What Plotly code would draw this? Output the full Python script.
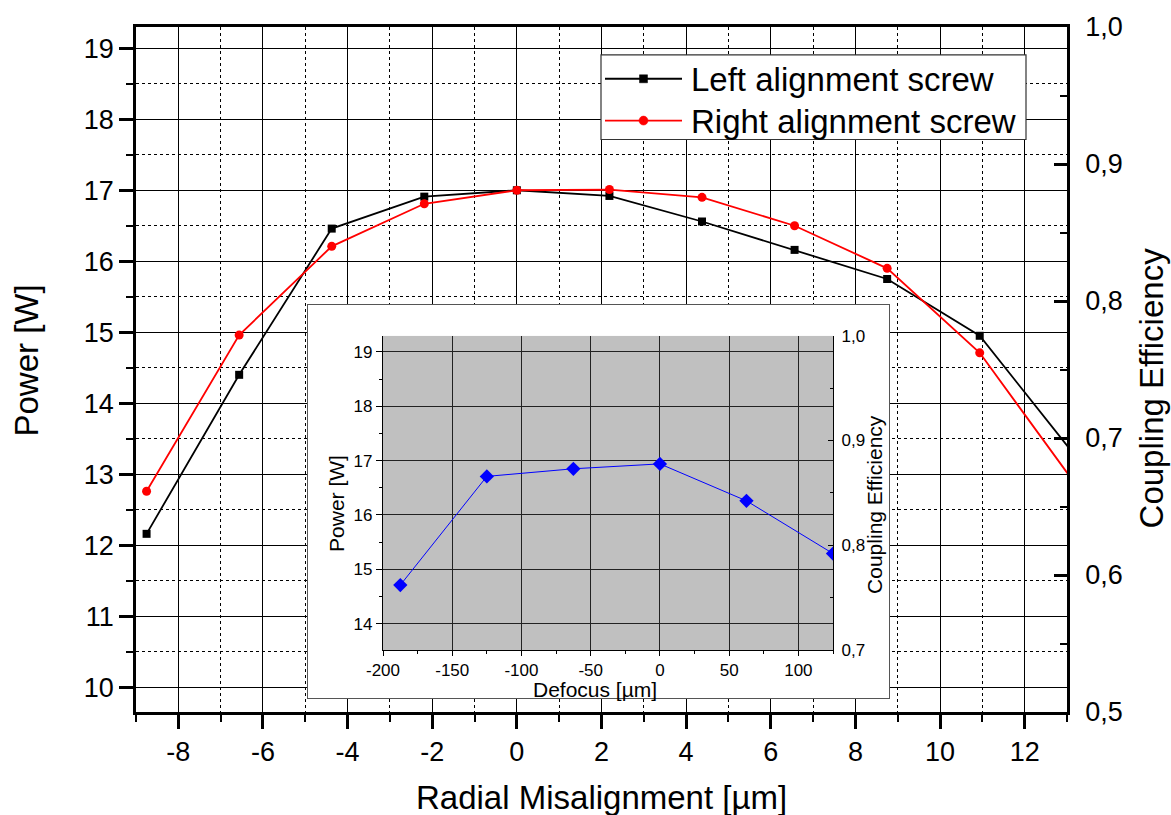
import plotly.graph_objects as go

# ---- data -----------------------------------------------------------------
# radial misalignment steps of the alignment screws [µm]
misalignment = [-8.75, -6.5625, -4.375, -2.1875, 0.0, 2.1875, 4.375,
                6.5625, 8.75, 10.9375, 13.125]
power_left = [12.16, 14.40, 16.46, 16.91, 17.00, 16.92, 16.56,
              16.16, 15.75, 14.95, 13.31]
power_right = [12.76, 14.96, 16.21, 16.81, 17.00, 17.01, 16.90,
               16.50, 15.90, 14.71, 12.92]

# defocus scan (inset)
defocus = [-187.5, -125.0, -62.5, 0.0, 62.5, 125.0]
power_defocus = [14.71, 16.71, 16.85, 16.94, 16.26, 15.29]

# input power: coupling efficiency = power / input power
input_power = 19.3

main_ticks_x = [-8, -6, -4, -2, 0, 2, 4, 6, 8, 10, 12]
main_ticks_eff = [0.5, 0.6, 0.7, 0.8, 0.9, 1.0]
inset_ticks_x = [-200, -150, -100, -50, 0, 50, 100]
inset_ticks_eff = [0.7, 0.8, 0.9, 1.0]

series_names = ["Left alignment screw", "Right alignment screw"]
series_colors = ["black", "red"]
series_symbols = ["square", "circle"]

FONT = "Liberation Sans, Arial, sans-serif"

# ---- geometry (paper fractions) -------------------------------------------
W, H = 1171, 815
ML, MR, MT, MB = 136, 104, 24, 103
PW, PH = W - ML - MR, H - MT - MB


def px(x):
    return (x - ML) / PW


def py(y):
    return (H - MB - y) / PH


def label(v):
    return f"{v:g}"


frame_dom_x = [px(308), px(889)]
frame_dom_y = [py(698), py(303)]
inset_dom_x = [px(383), px(833)]
inset_dom_y = [py(650), py(334)]

fig = go.Figure()

# main plot
for name, ys, col, sym in zip(series_names, [power_left, power_right],
                              series_colors, series_symbols):
    fig.add_trace(go.Scatter(
        x=misalignment, y=ys, name=name, mode="lines+markers",
        line=dict(color=col, width=1.8),
        marker=dict(symbol=sym, size=8 if sym == "square" else 9, color=col),
        showlegend=False, xaxis="x", yaxis="y"))

# efficiency scale on the right axis (same curve, transparent)
fig.add_trace(go.Scatter(
    x=misalignment, y=[p / input_power for p in power_left],
    mode="lines", line=dict(width=0), opacity=0, showlegend=False,
    hoverinfo="skip", xaxis="x", yaxis="y2"))

# inset frame (white box)
fig.add_trace(go.Scatter(x=[None], y=[None], showlegend=False,
                         hoverinfo="skip", xaxis="x3", yaxis="y3"))

# inset plot
fig.add_trace(go.Scatter(
    x=defocus, y=power_defocus, mode="lines+markers", showlegend=False,
    line=dict(color="#0000FF", width=1),
    marker=dict(symbol="diamond", size=11, color="#0000FF"),
    xaxis="x4", yaxis="y4"))
fig.add_trace(go.Scatter(
    x=defocus, y=[p / input_power for p in power_defocus],
    mode="lines", line=dict(width=0), opacity=0, showlegend=False,
    hoverinfo="skip", xaxis="x4", yaxis="y5"))

tick_font = dict(family=FONT, size=27, color="black")
inset_font = dict(family=FONT, size=17, color="black")

fig.update_layout(
    width=W, height=H,
    margin=dict(l=ML, r=MR, t=MT, b=MB),
    paper_bgcolor="white", plot_bgcolor="white",
    separators=",.",
    font=dict(family=FONT, color="black"),
    showlegend=False,
    xaxis=dict(
        range=[-9.0, 13.0], domain=[0, 1], anchor="y",
        tickvals=main_ticks_x, ticktext=[label(v) for v in main_ticks_x],
        ticks="outside", ticklen=14, tickwidth=2.5,
        tickcolor="black", tickfont=tick_font,
        showline=True, linewidth=2.5, linecolor="black", mirror=True,
        showgrid=True, gridcolor="black", gridwidth=1, zeroline=False,
        minor=dict(dtick=1, ticks="outside", ticklen=7, tickwidth=2,
                   tickcolor="black", showgrid=True, gridcolor="black",
                   gridwidth=1, griddash="dot"),
    ),
    yaxis=dict(
        range=[0.5 * input_power, input_power], domain=[0, 1], anchor="x",
        tick0=0, dtick=1, ticks="outside", ticklen=14, tickwidth=2.5,
        tickcolor="black", tickfont=tick_font,
        showline=True, linewidth=2.5, linecolor="black",
        showgrid=True, gridcolor="black", gridwidth=1, zeroline=False,
        minor=dict(dtick=0.5, ticks="outside", ticklen=7, tickwidth=2,
                   tickcolor="black", showgrid=True, gridcolor="black",
                   gridwidth=1, griddash="dot"),
    ),
    yaxis2=dict(
        range=[0.5, 1.0], overlaying="y", side="right", anchor="x",
        tickvals=main_ticks_eff, tickformat=".1f",
        ticks="inside", ticklen=13, tickwidth=2.5, tickcolor="black",
        tickfont=tick_font, ticklabelstandoff=10,
        showline=True, linewidth=2.5, linecolor="black",
        showgrid=False, zeroline=False,
        minor=dict(dtick=0.05, ticks="inside", ticklen=7, tickwidth=2,
                   tickcolor="black", showgrid=False),
    ),
    xaxis3=dict(
        range=[0, 1], domain=frame_dom_x, anchor="y3",
        showticklabels=False, ticks="", showgrid=False, zeroline=False,
        showline=True, mirror=True, linecolor="#555555", linewidth=1,
    ),
    yaxis3=dict(
        range=[0, 1], domain=frame_dom_y, anchor="x3",
        showticklabels=False, ticks="", showgrid=False, zeroline=False,
        showline=True, mirror=True, linecolor="#555555", linewidth=1,
    ),
    xaxis4=dict(
        range=[-200, 125], domain=inset_dom_x, anchor="y4",
        tickvals=inset_ticks_x, ticktext=[label(v) for v in inset_ticks_x],
        ticks="outside", ticklen=5, tickwidth=1,
        tickcolor="black", tickfont=inset_font, ticklabelstandoff=-1,
        showline=True, linewidth=1.2, linecolor="black",
        showgrid=True, gridcolor="#222222", gridwidth=1.2, zeroline=False,
        minor=dict(dtick=25, ticks="outside", ticklen=3, tickwidth=1,
                   tickcolor="black", showgrid=False),
    ),
    yaxis4=dict(
        range=[0.7 * input_power, input_power], domain=inset_dom_y,
        anchor="x4",
        tick0=0, dtick=1, ticks="outside", ticklen=6, tickwidth=1,
        tickcolor="black", tickfont=inset_font,
        showline=True, linewidth=1.2, linecolor="black",
        showgrid=True, gridcolor="#222222", gridwidth=1.2, zeroline=False,
        minor=dict(dtick=0.5, ticks="outside", ticklen=3, tickwidth=1,
                   tickcolor="black", showgrid=False),
    ),
    yaxis5=dict(
        range=[0.7, 1.0], overlaying="y4", side="right", anchor="x4",
        tickvals=inset_ticks_eff, tickformat=".1f",
        ticks="inside", ticklen=5, tickwidth=1, tickcolor="black",
        tickfont=inset_font, ticklabelstandoff=4,
        showline=True, linewidth=1.2, linecolor="black",
        showgrid=False, zeroline=False,
        minor=dict(dtick=0.05, ticks="inside", ticklen=3, tickwidth=1,
                   tickcolor="black", showgrid=False),
    ),
)

# grey plotting area of the inset, beneath its grid lines
fig.add_shape(type="rect", xref="x4", yref="y4",
              x0=-200, x1=125, y0=0.7 * input_power, y1=input_power,
              fillcolor="#C0C0C0", line=dict(width=0), layer="below")

# ---- legend box -------------------------------------------------------------
leg_x0, leg_x1, leg_y0, leg_y1 = 601, 1026, 52, 137
row_y = [76, 118]
fig.add_shape(type="rect", xref="paper", yref="paper",
              x0=px(leg_x0), x1=px(leg_x1), y0=py(leg_y1), y1=py(leg_y0),
              fillcolor="white", line=dict(color="#333333", width=1.2),
              layer="above")
for name, col, sym, ry in zip(series_names, series_colors, series_symbols,
                              row_y):
    fig.add_shape(type="line", xref="paper", yref="paper",
                  x0=px(605), x1=px(682), y0=py(ry), y1=py(ry),
                  line=dict(color=col, width=1.8), layer="above")
    half = 4 if sym == "square" else 4.5
    fig.add_shape(type="rect" if sym == "square" else "circle",
                  xref="paper", yref="paper",
                  xsizemode="pixel", ysizemode="pixel",
                  xanchor=px(643.5), yanchor=py(ry),
                  x0=-half, x1=half, y0=-half, y1=half,
                  fillcolor=col, line=dict(color=col, width=0.5),
                  layer="above")
    fig.add_annotation(text=name, x=px(689), y=py(ry + 1),
                       xref="paper", yref="paper",
                       xanchor="left", yanchor="middle", showarrow=False,
                       font=dict(family=FONT, size=33, color="black"))

# ---- axis titles ------------------------------------------------------------
title_font = dict(family=FONT, size=33, color="black")
inset_title_font = dict(family=FONT, size=21, color="black")
titles = [
    ("Power [W]", px(27), py(359), -90, title_font),
    ("Coupling Efficiency", px(1151), py(387), -90, title_font),
    ("Radial Misalignment [µm]", px(601), py(798), 0, title_font),
    ("Power [W]", px(337), py(503), -90, inset_title_font),
    ("Defocus [µm]", px(595), py(689), 0, inset_title_font),
    ("Coupling Efficiency", px(875), py(504), -90, inset_title_font),
]
for text, x, y, ang, f in titles:
    fig.add_annotation(text=text, x=x, y=y, xref="paper", yref="paper",
                       xanchor="center", yanchor="middle", textangle=ang,
                       showarrow=False, font=f)

fig.write_html("out.html")
